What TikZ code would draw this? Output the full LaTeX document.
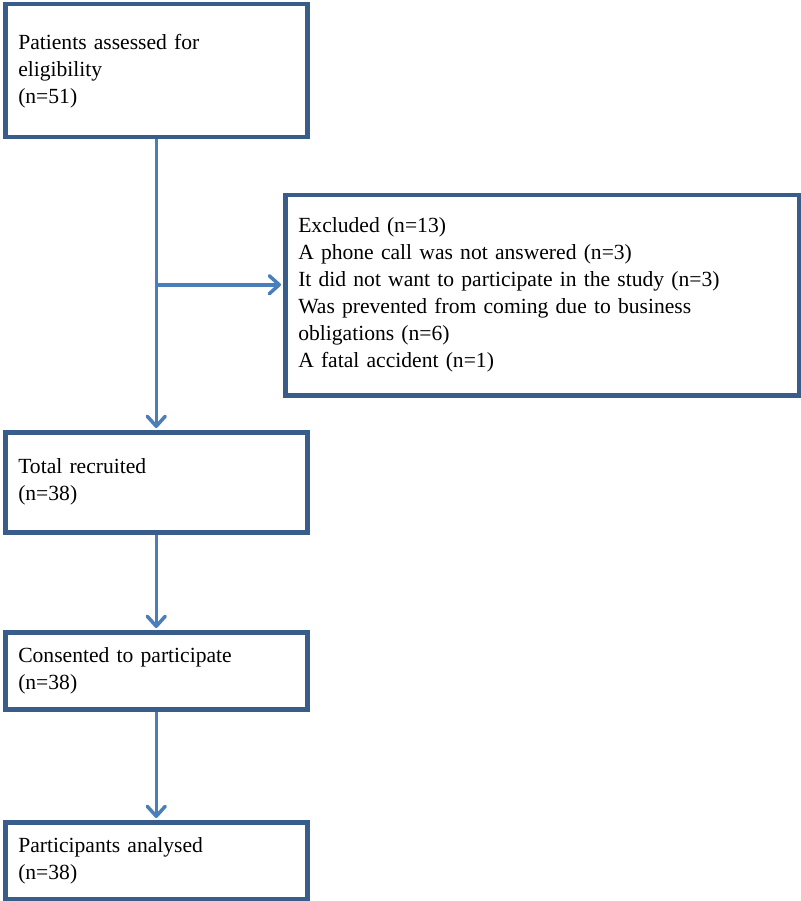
\documentclass[tikz,border=0pt]{standalone}
\usepackage{fontspec}
\setmainfont{Liberation Serif}
\usetikzlibrary{arrows.meta,calc}
\definecolor{boxline}{RGB}{56,93,138}
\definecolor{arrowline}{RGB}{74,126,187}
\tikzset{
  % boxes of the flow chart and the arrows between them
  flow box/.style={rectangle,draw=boxline,line width=4.5pt,fill=white,
    anchor=north west,align=left,inner xsep=13pt,inner ysep=0pt,
    font=\fontsize{21.6}{27}\selectfont},
  flow arrow/.style={draw=arrowline,line width=3.5pt,
    -{Straight Barb[length=10pt,width=18pt,round]},shorten >=2pt}
}

\begin{document}
\begin{tikzpicture}
[x=1pt,y=-1pt]
\useasboundingbox (0,0) rectangle (800,901);
\node[flow box,text width=276pt,minimum height=133pt] (assess) at (3,2)
  {Patients assessed for\\eligibility\\(n=51)};
\node[flow box,text width=488pt,minimum height=200pt] (excl) at (283,193)
  {Excluded (n=13)\\A phone call was not answered (n=3)\\
   It did not want to participate in the study (n=3)\\
   Was prevented from coming due to business\\obligations (n=6)\\
   A fatal accident (n=1)};
\node[flow box,text width=276pt,minimum height=100pt] (recruit) at (3,430)
  {Total recruited\\(n=38)};
\node[flow box,text width=276pt,minimum height=77pt] (consent) at (3,630)
  {Consented to participate\\(n=38)};
\node[flow box,text width=276pt,minimum height=77pt] (analysed) at (3,820)
  {Participants analysed\\(n=38)};
% trunk and side branch
\coordinate (split) at ($(assess.south)!0.5!(recruit.north)$);
\draw[flow arrow] (assess.south) -- (recruit.north);
\draw[flow arrow] (split) -- (split -| excl.west);
\draw[flow arrow] (recruit.south) -- (consent.north);
\draw[flow arrow] (consent.south) -- (analysed.north);
\end{tikzpicture}
\end{document}
